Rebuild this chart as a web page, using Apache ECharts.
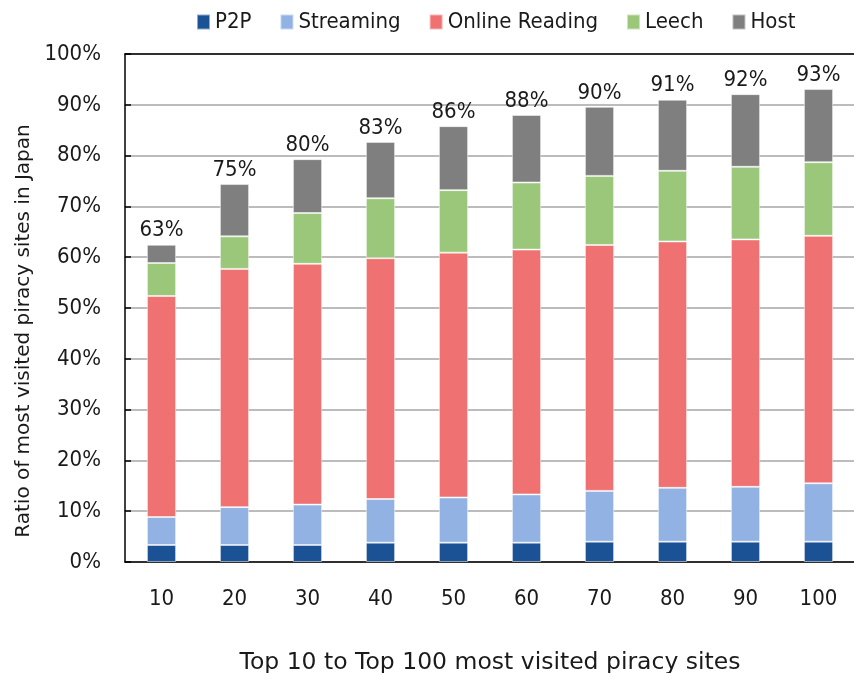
<!DOCTYPE html>
<html>
<head>
<meta charset="utf-8">
<script src="https://cdn.jsdelivr.net/npm/echarts@6/dist/echarts.min.js"></script>
<style>
	html, body { margin: 0; padding: 0; background: #fff; }
	#chart { width: 854px; height: 673px; }
</style>
</head>
<body>
<div id="chart"></div>
<script>
	// top N sites
	var categories = ['10', '20', '30', '40', '50', '60', '70', '80', '90', '100'];
	// share of each type (%), stacked
	var p2p = [3.35, 3.35, 3.35, 3.8, 3.8, 3.8, 4.0, 4.0, 4.0, 4.0];
	var streaming = [5.5, 7.45, 7.95, 8.6, 8.9, 9.5, 10.0, 10.6, 10.8, 11.5];
	var onlineReading = [43.5, 46.9, 47.4, 47.4, 48.2, 48.2, 48.4, 48.5, 48.7, 48.7];
	var leech = [6.5, 6.4, 10.0, 11.8, 12.3, 13.2, 13.6, 13.9, 14.3, 14.5];
	var host = [3.6, 10.3, 10.6, 11.1, 12.6, 13.3, 13.6, 14.0, 14.3, 14.4];
	var totals = ['63%', '75%', '80%', '83%', '86%', '88%', '90%', '91%', '92%', '93%'];

	var font = '"DejaVu Sans Condensed", "DejaVu Sans"';
	var wide = '"DejaVu Sans"';
	var fs = 22;
	var chart = echarts.init(document.getElementById('chart'));

	function seg(name, data, color) {
		return {
			name: name,
			type: 'bar',
			stack: 'total',
			barWidth: '40%',
			data: data,
			itemStyle: {
				color: color,
				borderColor: 'rgba(255,255,255,0.5)',
				borderWidth: 1
			}
		};
	}

	var hostSeries = seg('Host', host, '#7f7f7f');
	hostSeries.label = {
		show: true,
		position: 'top',
		distance: 3,
		color: '#1a1a1a',
		fontFamily: font,
		fontSize: fs,
		formatter: function (p) { return totals[p.dataIndex]; }
	};

	chart.setOption({
		animation: false,
		textStyle: { fontFamily: font },
		legend: {
			left: 191,
			top: 6,
			itemWidth: 13,
			itemHeight: 15,
			itemGap: 28,
			itemTextGap: 7,
			icon: 'rect',
			textStyle: { fontFamily: font, fontSize: fs, color: '#1a1a1a' },
			data: ['P2P', 'Streaming', 'Online Reading', 'Leech', 'Host']
		},
		grid: {
			left: 125,
			top: 54,
			width: 730,
			height: 508,
			outerBoundsMode: 'none'
		},
		xAxis: [{
			type: 'category',
			data: categories,
			name: 'Top 10 to Top 100 most visited piracy sites',
			nameLocation: 'middle',
			nameGap: 89,
			nameTextStyle: { fontFamily: wide, fontSize: 23.5, color: '#1a1a1a' },
			axisLine: { lineStyle: { color: '#000', width: 1.5 } },
			axisTick: { inside: true, length: 6, lineStyle: { color: '#000', width: 1.5 } },
			axisLabel: { margin: 26, fontFamily: font, fontSize: fs, color: '#1a1a1a' }
		}, {
			type: 'category',
			position: 'top',
			data: categories,
			axisLine: { lineStyle: { color: '#000', width: 1.5 } },
			axisTick: { show: false },
			axisLabel: { show: false }
		}],
		yAxis: {
			type: 'value',
			min: 0,
			max: 100,
			interval: 10,
			name: 'Ratio of most visited piracy sites in Japan',
			nameLocation: 'middle',
			nameGap: 90,
			nameTextStyle: { fontFamily: wide, fontSize: 20, color: '#1a1a1a', padding: [0, 46, 0, 0] },
			axisLine: { show: true, lineStyle: { color: '#000', width: 1.5 } },
			axisTick: { show: true, inside: true, length: 6, lineStyle: { color: '#000', width: 1.5 } },
			axisLabel: { margin: 24, fontFamily: font, fontSize: fs, color: '#1a1a1a', formatter: '{value}%' },
			splitLine: { lineStyle: { color: '#a6a6a6', width: 1.5 } }
		},
		series: [
			seg('P2P', p2p, '#1b5296'),
			seg('Streaming', streaming, '#92b2e4'),
			seg('Online Reading', onlineReading, '#ef7171'),
			seg('Leech', leech, '#9ac779'),
			hostSeries
		]
	});
</script>
</body>
</html>
